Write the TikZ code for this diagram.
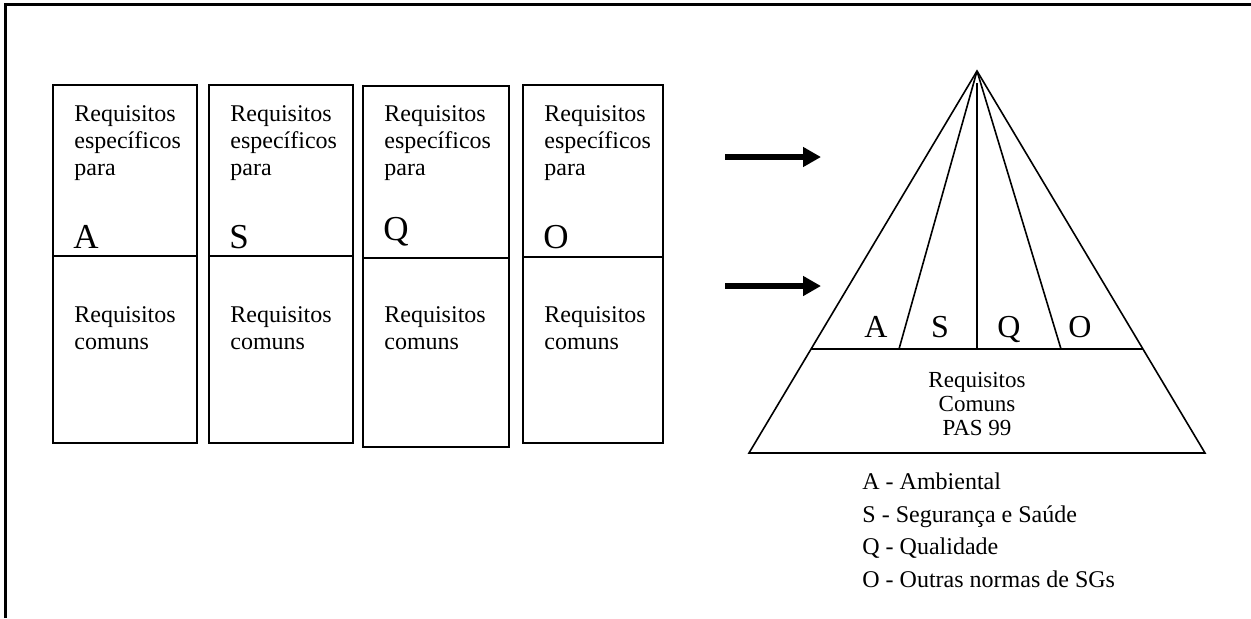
\documentclass[tikz,border=0pt]{standalone}
\usepackage{fontspec}
\setmainfont{Liberation Serif}
\usetikzlibrary{arrows.meta,positioning}
\tikzset{
  frameline/.style={line width=1.5pt},
  boxline/.style={line width=1pt},
  pyrline/.style={line width=0.8pt},
  reqtext/.style={anchor=base west,align=left,inner sep=0pt,font=\fontsize{12}{13.5}\selectfont},
  bigletter/.style={anchor=base west,inner sep=0pt,font=\fontsize{17.5}{20}\selectfont},
  pyrletter/.style={anchor=base,inner sep=0pt,font=\fontsize{16}{18}\selectfont},
  basetext/.style={anchor=base,align=center,inner sep=0pt,font=\fontsize{11.5}{12}\selectfont},
  legend/.style={anchor=base west,align=left,inner sep=0pt,font=\fontsize{12}{16.2}\selectfont},
  fatarrow/.style={-{Triangle[length=9pt,width=9.5pt]},line width=2.75pt}
}

\begin{document}
\begin{tikzpicture}[x=0.5pt,y=-0.5pt]
  \useasboundingbox (0,0) rectangle (1251,618);
  \draw[frameline] (5,618) -- (5,4) -- (1251,4);

  % multi-line nodes sit on the baseline of their last line
  \foreach \name/\xl/\xr/\yt/\ym/\yb/\ly in {A/53/197/85/256/443/248, S/209/353/85/256/443/248, Q/363/509/86/258/447/240, O/523/663/85/257/443/248} {
    \draw[boxline] (\xl,\yt) rectangle (\xr,\ym);
    \draw[boxline] (\xl,\ym) rectangle (\xr,\yb);
    \node[reqtext] (spec\name) at (\xl+21,175) {Requisitos\\específicos\\para};
    \node[bigletter] (ltr\name) at (\xl+20,\ly) {\name};
    \node[reqtext] (com\name) at (\xl+21,349) {Requisitos\\comuns};
  }

  \coordinate (a1s) at (725,157);
  \coordinate (a1e) at (821,157);
  \coordinate (a2s) at (725,286);
  \coordinate (a2e) at (821,286);
  \draw[fatarrow] (a1s) -- (a1e);
  \draw[fatarrow] (a2s) -- (a2e);

  \coordinate (apex) at (977,71);
  \coordinate (bl) at (749,453);
  \coordinate (br) at (1205,453);
  \coordinate (ml) at (811,349);
  \coordinate (mr) at (1143,349);
  \coordinate (d1) at (899,349);
  \coordinate (d2top) at (977,83);
  \coordinate (d2) at (977,349);
  \coordinate (d3) at (1061,349);
  \draw[pyrline] (bl) -- (apex) -- (br) -- cycle;
  \draw[pyrline] (ml) -- (mr);
  \draw[pyrline] (apex) -- (d1);
  \draw[pyrline] (d2top) -- (d2);
  \draw[pyrline] (apex) -- (d3);

  \node[pyrletter] (pA) at (876,337) {A};
  \node[pyrletter] (pS) at (940,337) {S};
  \node[pyrletter] (pQ) at (1009,337) {Q};
  \node[pyrletter] (pO) at (1080,337) {O};
  \node[basetext] (common) at (977,435) {Requisitos\\Comuns\\PAS 99};

  \node[legend] (key) at (862,587) {A - Ambiental\\S - Segurança e Saúde\\Q - Qualidade\\O - Outras normas de SGs};
\end{tikzpicture}
\end{document}
